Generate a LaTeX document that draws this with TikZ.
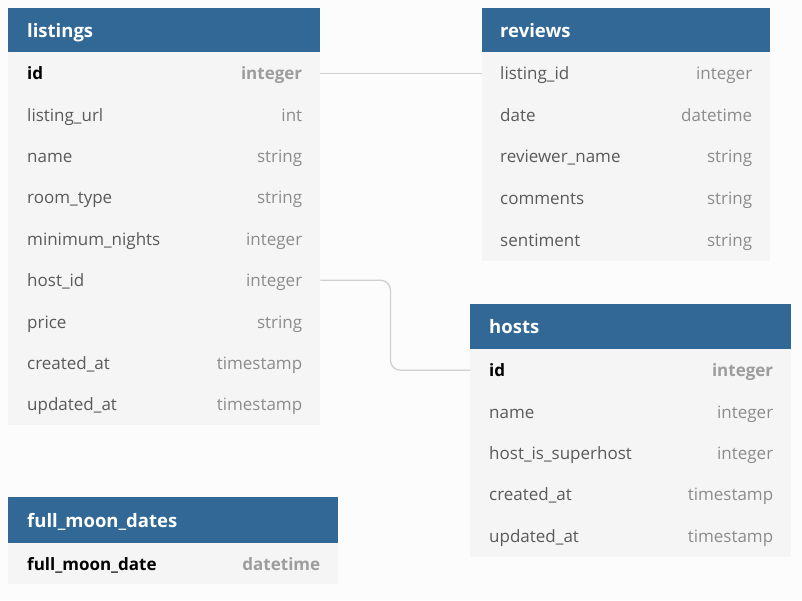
\documentclass[tikz,border=0pt]{standalone}
\usepackage{fontspec}
\setmainfont{Open Sans}
\usetikzlibrary{positioning}
\definecolor{headblue}{HTML}{316896}
\definecolor{pagebg}{HTML}{FCFCFC}
\definecolor{rowbg}{HTML}{F5F5F5}
\definecolor{fieldgray}{HTML}{5A5A5A}
\definecolor{typegray}{HTML}{8C8C8C}
\definecolor{linkgray}{HTML}{D0D0D0}
\tikzset{
  header/.style={fill=headblue, anchor=north west, minimum height=44.5pt,
    inner sep=0pt},
  headtext/.style={anchor=base west, inner sep=0pt, yshift=-7pt, text=white,
    font=\fontsize{18.5}{20}\selectfont\bfseries},
  row/.style={fill=rowbg, anchor=north west, minimum height=42pt, inner sep=0pt},
  fieldname/.style={anchor=base west, inner sep=0pt, yshift=-6.5pt, text=fieldgray,
    font=\fontsize{17}{19}\selectfont},
  fieldtype/.style={anchor=base east, inner sep=0pt, yshift=-6.5pt, text=typegray,
    font=\fontsize{17}{19}\selectfont},
  keyname/.style={fieldname, text=black, font=\fontsize{17}{19}\selectfont\bfseries},
  keytype/.style={fieldtype, text=typegray!85, font=\fontsize{17}{19}\selectfont\bfseries},
  link/.style={draw=linkgray, line width=1.3pt}
}
\begin{document}
\begin{tikzpicture}[x=1pt, y=-1pt]
    \fill[pagebg] (0,0) rectangle (802,600);
    \useasboundingbox (0,0) rectangle (802,600);

    % listings
    \node[header, minimum width=312pt] (listings) at (8,8) {};
    \node[headtext] at ([xshift=19pt]listings.west) {listings};
    \foreach \name/\type [count=\i] in {id/integer, listing\_url/int, name/string,
        room\_type/string, minimum\_nights/integer, host\_id/integer, price/string,
        created\_at/timestamp, updated\_at/timestamp} {
      \node[row, minimum width=312pt] (listings-\i) at (8,52+41.4*\i-41.4) {};
      \ifnum\i=1
        \node[keyname] at ([xshift=19pt]listings-\i.west) {\name};
        \node[keytype] at ([xshift=-18pt]listings-\i.east) {\type};
      \else
        \node[fieldname] at ([xshift=19pt]listings-\i.west) {\name};
        \node[fieldtype] at ([xshift=-18pt]listings-\i.east) {\type};
      \fi
    }

    % reviews
    \node[header, minimum width=288pt] (reviews) at (482,8) {};
    \node[headtext] at ([xshift=18pt]reviews.west) {reviews};
    \foreach \name/\type [count=\i] in {listing\_id/integer, date/datetime,
        reviewer\_name/string, comments/string, sentiment/string} {
      \node[row, minimum width=288pt] (reviews-\i) at (482,52+41.6*\i-41.6) {};
      \node[fieldname] at ([xshift=18pt]reviews-\i.west) {\name};
      \node[fieldtype] at ([xshift=-18pt]reviews-\i.east) {\type};
    }

    % hosts
    \node[header, minimum width=321pt] (hosts) at (470,304) {};
    \node[headtext] at ([xshift=19pt]hosts.west) {hosts};
    \foreach \name/\type [count=\i] in {id/integer, name/integer,
        host\_is\_superhost/integer, created\_at/timestamp, updated\_at/timestamp} {
      \node[row, minimum width=321pt] (hosts-\i) at (470,349+41.4*\i-41.4) {};
      \ifnum\i=1
        \node[keyname] at ([xshift=19pt]hosts-\i.west) {\name};
        \node[keytype] at ([xshift=-18pt]hosts-\i.east) {\type};
      \else
        \node[fieldname] at ([xshift=19pt]hosts-\i.west) {\name};
        \node[fieldtype] at ([xshift=-18pt]hosts-\i.east) {\type};
      \fi
    }

    % full_moon_dates
    \node[header, minimum width=330pt, minimum height=46pt] (fullmoon) at (8,497) {};
    \node[headtext] at ([xshift=19pt]fullmoon.west) {full\_moon\_dates};
    \node[row, minimum width=330pt, minimum height=41pt] (fullmoon-1) at (8,543) {};
    \node[keyname] at ([xshift=19pt]fullmoon-1.west) {full\_moon\_date};
    \node[keytype] at ([xshift=-18pt]fullmoon-1.east) {datetime};

    % relations
    \draw[link] (listings-1.east) -- (reviews-1.west);
    \draw[link, rounded corners=10pt] (listings-6.east) -- ++(70,0) |- (hosts-1.west);
\end{tikzpicture}
\end{document}
